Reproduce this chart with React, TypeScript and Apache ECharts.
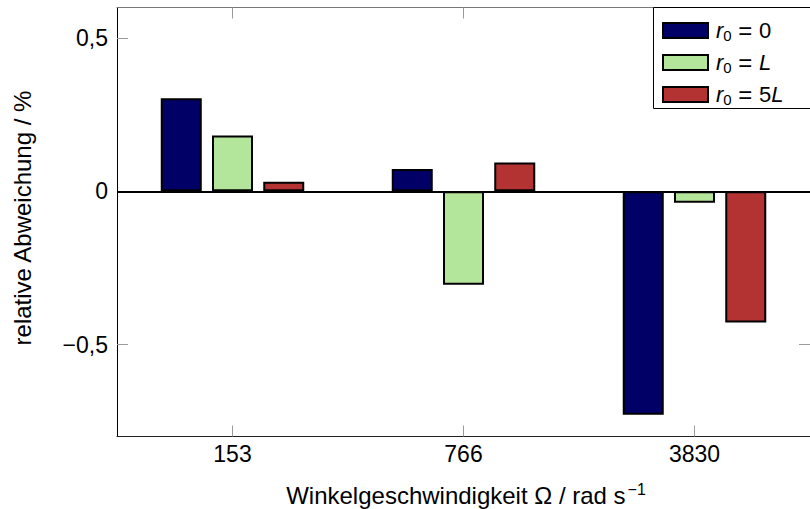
import React, { useEffect, useRef } from "react";
import * as echarts from "echarts";

const categories = ["153", "766", "3830"];
const seriesNames = ["r0 = 0", "r0 = L", "r0 = 5L"];
const r0Zero = [0.304, 0.073, -0.729];
const r0L = [0.182, -0.305, -0.037];
const r0FiveL = [0.031, 0.094, -0.428];
const yTicks = [-0.5, 0, 0.5];
const colors = ["#000066", "#b3e69a", "#b33333"];
const legendRich = [
  "{f|r}{s|0}{e|\u00a0=\u00a0}{n|0}",
  "{f|r}{s|0}{e|\u00a0=\u00a0}{i|L}",
  "{f|r}{s|0}{e|\u00a0=\u00a0}{n|5}{i|L}",
];

const FONT = "'Liberation Sans', Arial, sans-serif";

function fmtY(v: number) {
  if (v === 0) return "0";
  return (v < 0 ? "\u2212" : "") + String(Math.abs(v)).replace(".", ",");
}

export default function App() {
  const ref = useRef<HTMLDivElement>(null);
  useEffect(() => {
    if (!ref.current) return;
    const chart = echarts.init(ref.current, undefined, { renderer: "svg" });
    const data = [r0Zero, r0L, r0FiveL];
    const tickStyle = { color: "#999", width: 1 };
    chart.setOption({
      animation: false,
      textStyle: { fontFamily: FONT },
      grid: { left: 117, top: 7.5, width: 696, height: 429 },
      xAxis: [
        {
          type: "category",
          data: categories,
          position: "bottom",
          axisLine: { show: true, onZero: false, lineStyle: { color: "#222", width: 1 } },
          axisTick: { show: true, inside: true, alignWithLabel: true, length: 11, lineStyle: tickStyle },
          axisLabel: { fontSize: 23, color: "#000", margin: 6, fontFamily: FONT },
          splitLine: { show: false },
        },
        {
          type: "category",
          data: categories,
          position: "top",
          axisLine: { show: true, onZero: false, lineStyle: { color: "#777", width: 1 } },
          axisTick: { show: true, inside: true, alignWithLabel: true, length: 11, lineStyle: tickStyle },
          axisLabel: { show: false },
          splitLine: { show: false },
        },
      ],
      yAxis: [
        {
          type: "value",
          min: -0.8,
          max: 0.6,
          position: "left",
          axisLine: { show: true, onZero: false, lineStyle: { color: "#000", width: 1 } },
          axisTick: { show: true, inside: true, length: 11, customValues: yTicks, lineStyle: tickStyle },
          axisLabel: {
            customValues: yTicks,
            formatter: (v: number) => fmtY(v),
            fontSize: 23,
            color: "#000",
            margin: 9,
            fontFamily: FONT,
          },
          splitLine: { show: false },
        },
        {
          type: "value",
          min: -0.8,
          max: 0.6,
          position: "right",
          axisLine: { show: true, onZero: false, lineStyle: { color: "#777", width: 1 } },
          axisTick: { show: true, inside: true, length: 11, customValues: yTicks, lineStyle: tickStyle },
          axisLabel: { show: false },
          splitLine: { show: false },
        },
      ],
      legend: {
        orient: "vertical",
        left: 662,
        top: 18.5,
        itemWidth: 45,
        itemHeight: 15,
        itemGap: 8,
        icon: "rect",
        padding: 0,
        z: 10,
        data: seriesNames,
        formatter: (name: string) => legendRich[seriesNames.indexOf(name)],
        textStyle: {
          color: "#000",
          fontFamily: FONT,
          fontSize: 22,
          rich: {
            f: { fontSize: 22, lineHeight: 24, fontStyle: "italic", fontFamily: FONT, color: "#000", padding: [0, 0, 0, 3] },
            i: { fontSize: 22, lineHeight: 24, fontStyle: "italic", fontFamily: FONT, color: "#000" },
            s: { fontSize: 15, lineHeight: 15, fontFamily: FONT, color: "#000", padding: [9, 0, 0, 0] },
            e: { fontSize: 24, lineHeight: 24, fontFamily: FONT, color: "#000" },
            n: { fontSize: 22, lineHeight: 24, fontFamily: FONT, color: "#000" },
          },
        },
      },
      graphic: [
        {
          type: "rect",
          z: 9,
          shape: { x: 653.5, y: 7.5, width: 170, height: 101 },
          style: { fill: "#fff", stroke: "#000", lineWidth: 1 },
        },
        {
          type: "text",
          x: 466,
          y: 495,
          style: {
            text: "{a|Winkelgeschwindigkeit Ω / rad s}{b|\u22121}",
            align: "center",
            verticalAlign: "middle",
            fill: "#000",
            rich: {
              a: { fontSize: 24, lineHeight: 28, fontFamily: FONT, fill: "#000", color: "#000" },
              b: { fontSize: 16, lineHeight: 16, fontFamily: FONT, fill: "#000", color: "#000", padding: [0, 0, 12, 2] },
            },
          },
        },
        {
          type: "text",
          x: 22,
          y: 218,
          rotation: Math.PI / 2,
          style: {
            text: "relative Abweichung / %",
            font: `24px ${FONT}`,
            align: "center",
            verticalAlign: "middle",
            fill: "#000",
          },
        },
      ],
      series: data.map((d, i) => ({
        name: seriesNames[i],
        type: "bar",
        xAxisIndex: 0,
        yAxisIndex: 0,
        data: d,
        barWidth: 41,
        barGap: "25%",
        itemStyle: { color: colors[i], borderColor: "#000", borderWidth: 2 },
        markLine:
          i === 0
            ? {
                silent: true,
                symbol: "none",
                label: { show: false },
                lineStyle: { color: "#000", width: 2, type: "solid" },
                data: [{ yAxis: 0 }],
              }
            : undefined,
      })),
    });
    return () => chart.dispose();
  }, []);
  return (
    <div
      ref={ref}
      style={{ position: "fixed", left: 0, top: 0, width: 810, height: 509, background: "#fff" }}
    />
  );
}
